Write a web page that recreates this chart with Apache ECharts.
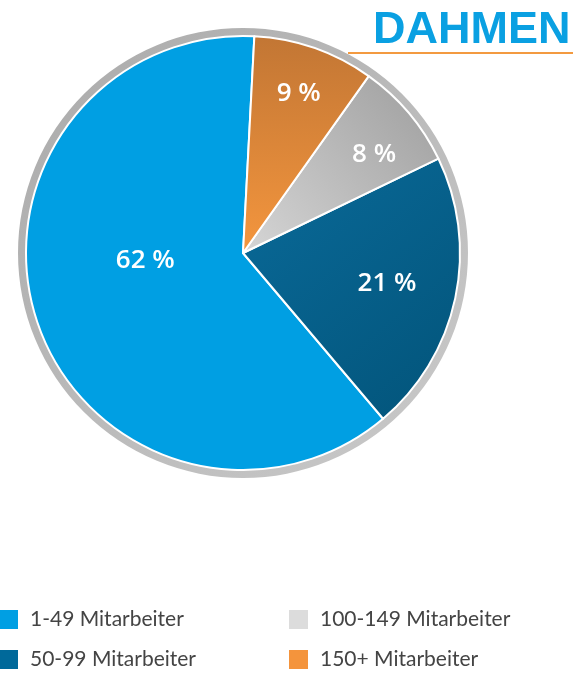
<!DOCTYPE html>
<html><head><meta charset="utf-8">
<script src="https://cdn.jsdelivr.net/npm/echarts@6/dist/echarts.min.js"></script>
<style>html,body{margin:0;padding:0;background:#fff}#c{width:573px;height:673px}</style>
</head><body><div id="c"></div>
<script>
const categories = ['1-49 Mitarbeiter', '50-99 Mitarbeiter', '100-149 Mitarbeiter', '150+ Mitarbeiter'];
const values = [62, 21, 8, 9];
const labelTexts = ['62 %', '21 %', '8 %', '9 %'];
const legendColors = ['#009fe3', '#00699a', '#dcdcdc', '#f4943c'];
const labelOffsets = [[8, -28], [35, 7], [46, -26], [19, -54]];
const legendSpots = [[-3, 608], [-3, 648], [287, 608], [287, 648]];
const sliceFills = [
  '#009fe3',
  {type:'linear',x:0,y:0,x2:1,y2:1,colorStops:[{offset:0,color:'#0a6a99'},{offset:1,color:'#02547a'}]},
  {type:'linear',x:0,y:1,x2:1,y2:0,colorStops:[{offset:0,color:'#d6d6d6'},{offset:1,color:'#9d9d9d'}]},
  {type:'linear',x:0,y:0,x2:0,y2:1,colorStops:[{offset:0,color:'#c27634'},{offset:1,color:'#f4963e'}]}
];

const chart = echarts.init(document.getElementById('c'), null, {renderer:'canvas'});
const pieData = categories.map((n, i) => ({
  name: n, value: values[i],
  itemStyle: {color: sliceFills[i]},
  label: {formatter: labelTexts[i], offset: labelOffsets[i]}
}));
const legends = categories.map((n, i) => ({
  left: legendSpots[i][0], top: legendSpots[i][1], orient: 'horizontal', padding: 0,
  itemWidth: 21, itemHeight: 21, icon: 'rect', selectedMode: false,
  textStyle: {fontFamily: 'Lato', fontSize: 21, color: '#444', padding: [3,0,0,6]},
  data: [{name: n, itemStyle: {color: legendColors[i]}}]
}));
chart.setOption({
  animation: false,
  legend: legends,
  graphic: [
    {type:'text', left: 373, top: 8, style:{text:'DAHMEN', font:'bold 45px "Liberation Sans", Arial', fill:'#0aa0e2'}},
    {type:'rect', shape:{x:348, y:52, width:225, height:2}, style:{fill:'#f39a40'}}
  ],
  series: [
    {
      type: 'pie', silent: true, center: [243, 253], radius: [214, 225],
      label: {show: false}, labelLine: {show: false},
      data: [{value: 1, name: 'ring', itemStyle: {color: {type:'linear',x:0,y:0,x2:1,y2:1,colorStops:[{offset:0,color:'#aaaaaa'},{offset:1,color:'#cacaca'}]}}}],
      z: 1
    },
    {
      type: 'pie', center: [243, 253], radius: [0, 217], clockwise: false, startAngle: 87,
      silent: true,
      itemStyle: {borderColor: '#fff', borderWidth: 2},
      label: {show: true, position: 'inside', color: '#fff', fontFamily: '"Open Sans"', fontWeight: 600, fontSize: 26},
      labelLine: {show: false},
      data: pieData, z: 2
    }
  ]
});
</script></body></html>
